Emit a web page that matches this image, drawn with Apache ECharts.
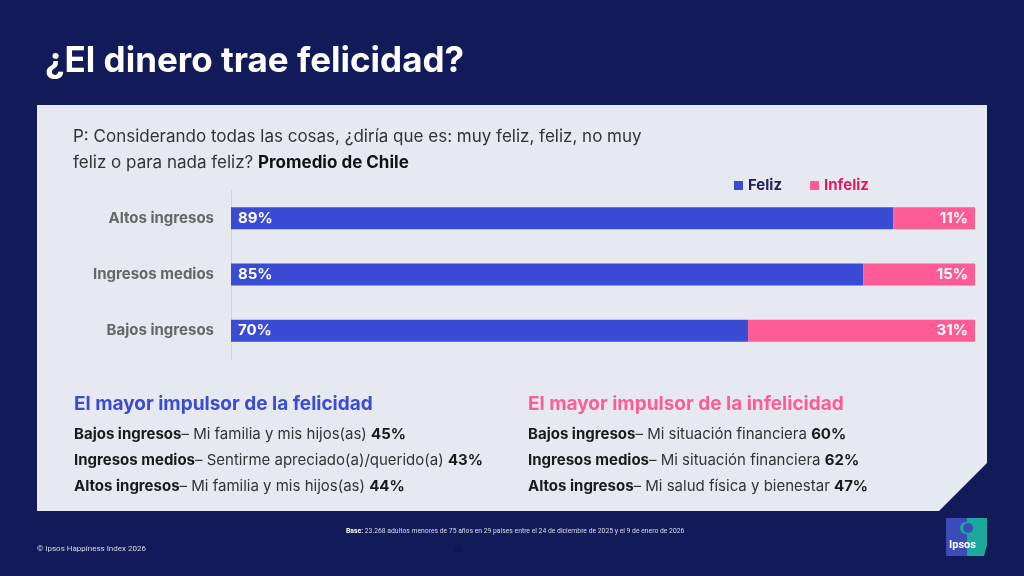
<!DOCTYPE html>
<html>
<head>
<meta charset="utf-8">
<script src="https://cdn.jsdelivr.net/npm/echarts@6/dist/echarts.min.js"></script>
<style>
html,body{margin:0;padding:0;background:#121a5a;}
#chart{width:1024px;height:576px;}
</style>
</head>
<body>
<div id="chart"></div>
<script>
// categories, top to bottom
var categories = ["Altos ingresos", "Ingresos medios", "Bajos ingresos"];
var felizVals = [89, 85, 69.5];
var infelizVals = [11, 15, 30.5];
var seriesNames = ["Feliz", "Infeliz"];

var felicidadLines = [
    ["Bajos ingresos", "Mi familia y mis hijos(as)", "45%"],
    ["Ingresos medios", "Sentirme apreciado(a)/querido(a)", "43%"],
    ["Altos ingresos", "Mi familia y mis hijos(as)", "44%"]
];
var infelicidadLines = [
    ["Bajos ingresos", "Mi situación financiera", "60%"],
    ["Ingresos medios", "Mi situación financiera", "62%"],
    ["Altos ingresos", "Mi salud física y bienestar", "47%"]
];

var FONT = "Inter";
var blue = "#3a4bd6", pink = "#ff5c95", navy = "#121a5a";

function driverText(lines, x, y){
    var out = [];
    for (var i = 0; i < lines.length; i++) {
        out.push({
            type: 'text', left: x, top: y + i * 26,
            style: {
                text: '{b|' + lines[i][0] + '}{n|– ' + lines[i][1] + ' }{b|' + lines[i][2] + '}',
                rich: {
                    b: {fontFamily: FONT, fontSize: 15, fontWeight: 'bold', fill: '#1a1a1a'},
                    n: {fontFamily: FONT, fontSize: 15, fill: '#333333'}
                }
            }
        });
    }
    return out;
}

var myChart = echarts.init(document.getElementById('chart'));

var graphics = [
    // panel with cut corner
    {type: 'polygon', z: -10, shape: {points: [[37,105],[987,105],[987,463],[939,511],[37,511]]},
     style: {fill: '#e6e9ef'}},
    {type: 'text', left: 45, top: 44, style: {text: '¿El dinero trae felicidad?', fontFamily: FONT, fontSize: 35, fontWeight: 'bold', fill: '#ffffff'}},
    {type: 'text', left: 73, top: 124, style: {
        text: 'P: Considerando todas las cosas, ¿diría que es: muy feliz, feliz, no muy\n{n|feliz o para nada feliz? }{b|Promedio de Chile}',
        fontFamily: FONT, fontSize: 17, fill: '#333333', lineHeight: 26,
        rich: {
            n: {fontFamily: FONT, fontSize: 17, fill: '#333333', lineHeight: 26},
            b: {fontFamily: FONT, fontSize: 17, fontWeight: 'bold', fill: '#111111', lineHeight: 26}
        }}},
    {type: 'text', left: 74, top: 395, style: {text: 'El mayor impulsor de la felicidad', fontFamily: FONT, fontSize: 19, fontWeight: 'bold', fill: blue}},
    {type: 'text', left: 528, top: 395, style: {text: 'El mayor impulsor de la infelicidad', fontFamily: FONT, fontSize: 19, fontWeight: 'bold', fill: pink}},
    {type: 'text', left: 37, top: 545, style: {text: '© Ipsos Happiness Index 2026', fontFamily: 'Roboto', fontSize: 8, fill: '#d8dbea'}},
    {type: 'text', left: 346, top: 528, style: {
        text: '{b|Base:} 23.268 adultos menores de 75 años en 29 países entre el 24 de diciembre de 2025 y el 9 de enero de 2026',
        fontFamily: 'Roboto', fontSize: 6.8, fill: '#d8dbea',
        rich: {b: {fontFamily: 'Roboto', fontSize: 6.8, fontWeight: 'bold', fill: '#ffffff'}}}},
    {type: 'text', left: 453, top: 547, style: {text: '10', fontFamily: 'Roboto', fontSize: 7, fill: '#0b1040'}},
    // Ipsos logo
    {type: 'rect', shape: {x: 946, y: 518, width: 21, height: 38}, style: {fill: '#3b4bb8'}},
    {type: 'polygon', shape: {points: [[967,518],[987,518],[987,545],[984,556],[967,556]]}, style: {fill: '#1aa99b'}},
    {type: 'circle', shape: {cx: 966, cy: 528, r: 6}, style: {fill: '#1aa99b'}},
    {type: 'circle', shape: {cx: 968, cy: 528, r: 5}, style: {fill: '#3b4bb8'}},
    {type: 'text', left: 949, top: 540, style: {text: 'Ipsos', fontFamily: 'Roboto', fontSize: 11, fontWeight: 'bold', fill: '#ffffff'}}
];
graphics = graphics.concat(driverText(felicidadLines, 74, 427), driverText(infelicidadLines, 528, 427));

var option = {
    backgroundColor: navy,
    animation: false,
    legend: {
        left: 729, top: 173,
        itemWidth: 9, itemHeight: 9, itemGap: 28, itemTextGap: 5, icon: 'rect',
        textStyle: {fontFamily: FONT, fontSize: 15, fontWeight: 'bold'},
        data: [
            {name: seriesNames[0], textStyle: {color: '#1e2460'}},
            {name: seriesNames[1], textStyle: {color: '#e8185f'}}
        ]
    },
    grid: {left: 231, right: 49, top: 190, bottom: 217, containLabel: false},
    xAxis: {type: 'value', min: 0, max: 100, show: false},
    yAxis: {
        type: 'category', data: categories, inverse: true,
        axisLine: {lineStyle: {color: '#cfd3dc'}},
        axisTick: {show: false},
        axisLabel: {margin: 17, fontFamily: FONT, fontSize: 15, fontWeight: 'bold', color: '#666666'}
    },
    series: [
        {
            name: seriesNames[0], type: 'bar', stack: 'total', data: felizVals,
            barWidth: 22, itemStyle: {color: blue},
            label: {show: true, position: 'insideLeft', distance: 7, color: '#ffffff',
                fontFamily: FONT, fontSize: 15, fontWeight: 'bold',
                formatter: function(p){ return Math.round(p.value) + '%'; }}
        },
        {
            name: seriesNames[1], type: 'bar', stack: 'total', data: infelizVals,
            barWidth: 22, itemStyle: {color: pink},
            label: {show: true, position: 'insideRight', distance: 7, color: '#ffffff',
                fontFamily: FONT, fontSize: 15, fontWeight: 'bold',
                formatter: function(p){ return Math.round(p.value) + '%'; }}
        }
    ],
    graphic: graphics
};
myChart.setOption(option);
</script>
</body>
</html>
